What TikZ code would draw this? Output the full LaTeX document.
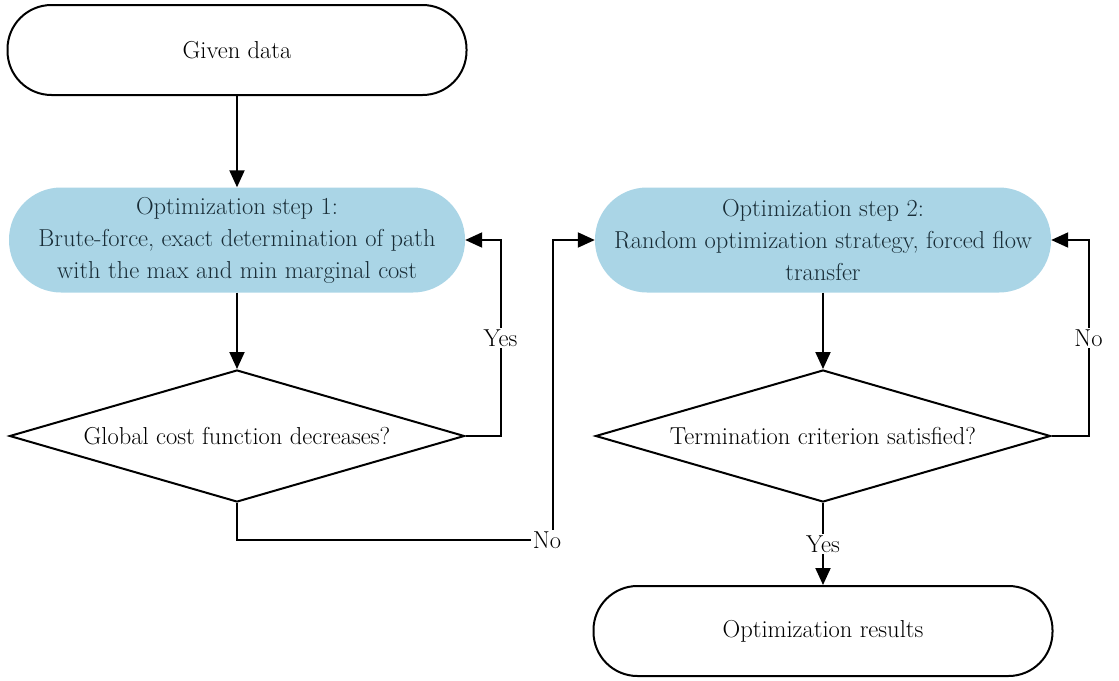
\documentclass[tikz,border=0pt]{standalone}
\usetikzlibrary{shapes.geometric, arrows.meta}

\definecolor{optblue}{RGB}{170,213,230}
\definecolor{opttext}{RGB}{25,45,55}

\begin{document}
\begin{tikzpicture}[
  x=1pt, y=-1pt,
  every node/.style={font=\fontsize{24.5}{32}\selectfont},
  arr/.style={-{Triangle[width=15pt,length=17pt]}, line width=2pt},
  term/.style={draw, line width=2pt, rounded corners=44pt, minimum width=459pt, minimum height=90pt},
  opt/.style={fill=optblue, rounded corners=52pt, minimum width=456pt, minimum height=105pt, align=center, text=opttext},
  dec/.style={draw, diamond, line width=2pt, minimum width=455pt, minimum height=132pt, aspect=3.4, inner sep=0pt},
  lbl/.style={fill=white, inner sep=2pt}
]
\useasboundingbox (0,0) rectangle (1119,680);

% Columns
\def\Lx{237}
\def\Rx{823}

% Left column
\node[term] (given) at (\Lx, 50) {Given data};
\node[opt] (step1) at (\Lx, 240) {Optimization step 1:\\Brute-force, exact determination of path\\with the max and min marginal cost};
\node[dec] (dec1) at (\Lx, 436) {Global cost function decreases?};

% Right column
\node[opt] (step2) at (\Rx, 240) {Optimization step 2:\\Random optimization strategy, forced flow\\transfer};
\node[dec] (dec2) at (\Rx, 436) {Termination criterion satisfied?};
\node[term] (result) at (\Rx, 631) {Optimization results};

% Flow
\draw[arr] (given) -- (step1);
\draw[arr] (step1) -- (dec1);
\draw[arr] (dec1.east) -- ++(35,0) |- node[pos=0.25, lbl]{Yes} (step1.east);

\coordinate (nocorner) at (553, 540);
\draw[arr] (dec1.south) |- (nocorner) |- (step2.west);
\node[lbl, xshift=-6pt] at (nocorner) {No};

\draw[arr] (step2) -- (dec2);
\draw[arr] (dec2.east) -- ++(37,0) |- node[pos=0.25, lbl]{No} (step2.east);
\draw[arr] (dec2.south) -- node[lbl]{Yes} (result.north);

\end{tikzpicture}
\end{document}
